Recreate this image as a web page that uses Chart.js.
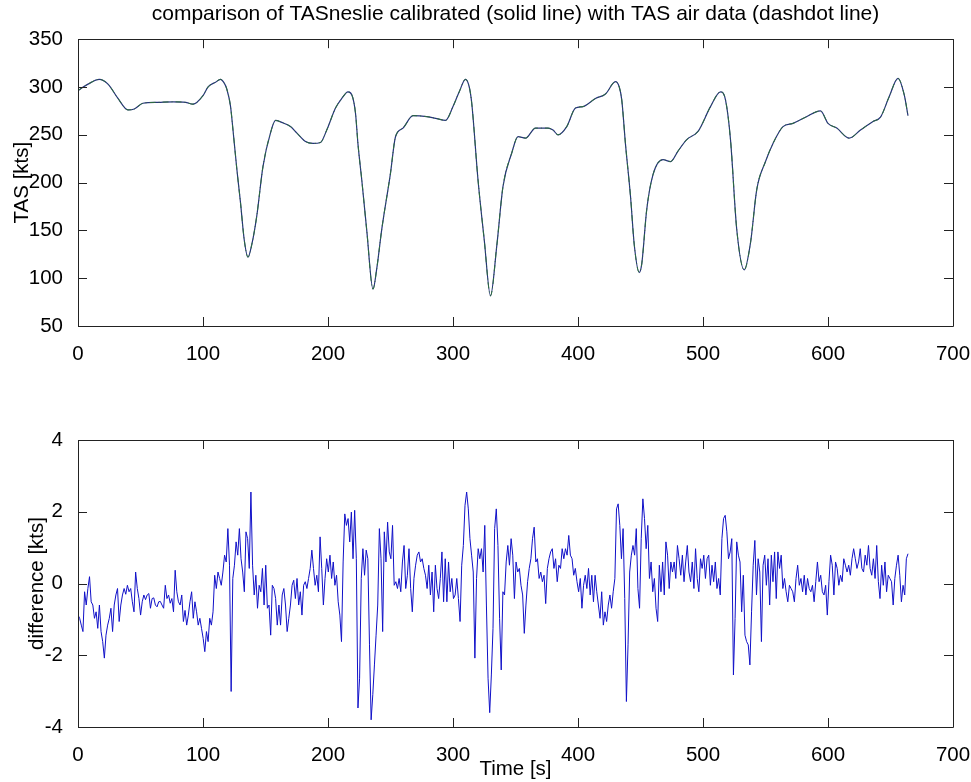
<!DOCTYPE html>
<html>
<head>
<meta charset="utf-8">
<script src="https://cdn.jsdelivr.net/npm/chart.js@4"></script>
<style>
  html, body { margin: 0; padding: 0; background: #fff; overflow: hidden; }
  #wrap { position: relative; width: 971px; height: 782px; }
  #top { position: absolute; left: 0; top: 0; }
  #bottom { position: absolute; left: 0; top: 380px; }
</style>
</head>
<body>
<div id="wrap">
  <canvas id="top" width="971" height="380"></canvas>
  <canvas id="bottom" width="971" height="402"></canvas>
</div>
<script>
// upper panel: TAS trace (both sources lie on top of each other)
const tasTime = [0, 3, 8, 17, 24, 32, 40, 45, 52, 64, 76, 86, 92, 100, 104, 110, 114, 117, 119, 122,
  124, 127, 130, 133, 136, 139, 143, 148, 154, 158, 163, 170, 175, 182, 188, 194, 199, 206, 211, 216,
  219, 222, 224, 227, 231, 236, 239, 243, 250, 254, 260, 268, 279, 287, 294, 300, 305, 310, 313, 315,
  320, 325, 330, 335, 340, 347, 352, 358, 366, 376, 380, 384, 391, 398, 404, 414, 422, 430, 433, 435,
  438, 442, 445, 449, 451, 455, 460, 468, 474, 480, 487, 496, 506, 514, 518, 522, 527, 533, 538, 543,
  550, 556, 564, 572, 582, 594, 600, 607, 617, 626, 636, 642, 649, 656, 661, 664];
const tasValue = [296, 299, 303, 308, 303, 288, 276, 277, 283, 284, 284.5, 284, 282, 291, 300, 305, 308, 304, 298, 280,
  255, 215, 179, 140, 122, 135, 165, 217, 252, 265, 263, 258.6, 252, 243, 241, 242, 255, 278, 288, 295,
  292, 272.6, 240, 203, 150, 88.5, 110, 151, 210, 248, 257, 270, 269, 267, 265, 279.5, 295, 308, 300, 283,
  203, 140, 81.6, 133.6, 196, 231, 248, 246.5, 257, 257, 255, 250, 258.6, 278, 279.5, 288, 292.7, 305.6, 300, 286.5,
  240, 185.7, 135, 106, 115, 172, 208.3, 224, 222, 233, 245, 253.5, 279.5, 295, 286.5, 245, 151, 108.7, 137, 192.7,
  222, 241, 258.6, 262, 268.4, 275, 262, 257, 246.5, 255, 264, 268.4, 290, 309, 291.7, 270];

// lower panel: difference, sampled evenly from t = 0 to t = 664 s
const diffSeg1 = [-0.88, -0.97, -1.16, -1.34, -0.23, -0.60, -0.14, 0.19, -0.51, -0.60,
  -0.97, -0.79, -1.25, -0.60, -1.34, -1.62, -2.08, -1.44, -1.16, -0.97,
  -0.69, -1.34, -0.60, -0.32, -0.14, -1.06, -0.60, -0.32, -0.14, -0.30,
  -0.05, -0.23, -0.14, -0.51, -0.79, 0.32, -0.14, -0.42, -0.88, -0.51,
  -0.32, -0.45, -0.32, -0.28, -0.69, -0.42, -0.40, -0.60, -0.65, -0.51,
  -0.50, -0.60, -0.69, -0.05, -0.42, -0.32, -0.55, -0.42, -0.79, 0.37,
  -0.23, -0.51, -0.60, -0.32, -1.06, -0.75, -1.16, -0.88, -0.51, -0.23,
  -0.97, -0.51, -0.79, -1.16, -0.97, -1.25, -1.53, -1.90, -1.34, -1.62,
  -0.97, -1.16, -0.79, 0.23, -0.14, 0.32, 0.14, -0.05, 0.32, 0.79,
  0.60, 1.53, 0.51, -3.01, 0.14, 0.51, 1.16, 0.79, 1.53, 0.69,
  0.32, -0.23, 1.44, 1.25, 0.42, 2.55, 0.51, -0.32, 0.23, -0.69,
  -0.05, -0.23, 0.42, -0.60, 0.51, -0.69, -0.60, -1.44, -0.05, -0.14,
  -0.42, -1.16, -0.60];
const diffSeg2 = [-1.16, -0.32, -0.14, -0.60, -1.34, -0.97, -0.60, -0.05, 0.09, -0.42,
  0.14, -0.60, -0.23, -0.88, -0.05, 0.05, -0.14, 0.14, 0.42, 0.93,
  0.42, -0.05, 0.23, -0.23, 1.30, 0.42, -0.60, 0.14, 0.69, 0.32,
  0.79, 0.14, 0.60, -0.05, 0.23, -0.51, -0.88, -1.62, 0.60, 1.94,
  1.62, 1.81, 1.16, 1.99, 0.69, 2.04, 0.69, -3.47, -2.64, 0.14,
  0.97, 0.23, 0.93, 0.69, -1.71, -3.80, -3.10, -2.27, -1.44, -0.60,
  1.53, 0.69, -1.34, 1.44, 0.60, 1.71, 0.88, 0.69, 1.62, -0.05,
  0.05, -0.14, 0.14, -0.23, 0.60, 1.06, -0.14, 0.23, 0.97, -0.14,
  -0.79, 0.14, 0.51, 0.79, 0.88, 0.60, 0.69, 0.42, 0.23, -0.14,
  0.51, -0.32, 0.32, -0.79, 0.51, -0.14, -0.42, 0.14, 0.88, -0.51,
  0.69, -0.51, 0.60, -0.23, 0.14, -0.42, -0.32, 0.14, -0.42, -1.06,
  0.51, 1.06, 2.18, 2.55, 2.08, 1.25, 0.79, 0.32, -2.08, 0.14,
  0.97, 0.69, 0.97, 0.32, 1.62, -0.60, -2.64, -3.60];
const diffSeg3 = [-2.55, -1.25, 1.53, 2.08, 1.06, -0.97, -2.41, -0.23, -0.32, 0.60,
  1.06, 0.51, 1.25, 0.79, -0.42, 0.60, 0.32, 0.42, -0.05, -0.32,
  -1.39, -0.60, 0.05, 0.42, 0.69, 1.25, 1.57, 0.60, 0.69, 0.14,
  0.32, 0.05, 0.23, -0.56, 0.42, 0.69, 0.88, 0.97, 0.42, 0.69,
  0.05, 0.51, 0.42, 0.97, 0.69, 0.97, 0.79, 1.34, 0.79, 0.69,
  0.23, 0.42, 0.05, -0.23, 0.14, -0.69, -0.05, 0.23, -0.14, 0.42,
  -0.32, 0.23, -0.51, 0.23, -0.23, -0.60, -0.97, -0.23, -1.16, -0.79,
  -1.06, -0.60, -0.32, -0.69, -0.23, 0.14, 2.08, 2.22, 1.62, 0.69,
  1.53, -0.42, -3.29, -1.71, 0.32, 0.79, 1.06, 0.79, 1.53, -0.14,
  -0.69, 1.25, 2.36, 1.81, 0.97, 1.62, 0.14, 0.60, -0.23, 0.14,
  -0.69, -1.06, 0.51, -0.23, 0.60, -0.32, 1.16, 0.79, -0.14, 0.60,
  0.32, 0.60, 0.14, 1.06, 0.69, 0.23, 0.79, 0.05, 0.60, 1.06,
  0.32, 0.05, 0.60, -0.14, 0.97, 0.14, -0.23, 0.69];
const diffSeg4 = [0.42, 0.79, 0.14, 0.69, 0.79, -0.05, 0.51, 0.05, 0.60, -0.14,
  0.14, -0.32, 1.25, 1.81, 1.90, 1.44, 0.69, 0.88, 1.25, -2.55,
  -0.97, 1.16, 0.79, 0.60, -0.79, 0.23, -1.44, -1.62, -1.71, -2.27,
  -0.79, 0.51, 1.20, -0.32, 0.69, 0.32, -1.62, 0.51, 0.79, -0.05,
  0.69, -0.60, 0.79, 0.05, 0.88, -0.42, 0.88, 0.42, 0.79, -0.14,
  0.14, -0.23, -0.51, -0.05, -0.14, -0.23, -0.51, 0.14, 0.51, -0.05,
  0.14, -0.23, 0.23, -0.32, 0.14, -0.14, -0.23, -0.05, -0.51, 0.05,
  0.60, 0.05, 0.23, -0.23, -0.32, -0.05, -0.88, 0.05, 0.79, 0.51,
  -0.32, 0.60, 0.42, -0.05, 0.23, 0.05, 0.69, 0.51, 0.32, 0.51,
  0.23, 0.69, 0.97, 0.69, 0.42, 0.60, 0.97, 0.42, 0.32, 0.79,
  0.51, 1.06, 0.42, 0.23, 0.69, 0.14, 1.06, 0.05, -0.42, 0.51,
  -0.05, 0.60, -0.23, 0.23, 0.14, 0.05, -0.60, 0.14, 0.51, 0.79,
  0.23, -0.51, -0.05, -0.32, 0.69, 0.83];
const diffEnd = 664;

const titleText = "comparison of TASneslie calibrated (solid line) with TAS air data (dashdot line)";

const diffValues = [...diffSeg1, ...diffSeg2, ...diffSeg3, ...diffSeg4];
const diffStep = diffEnd / (diffValues.length - 1);
const tasPoints = tasTime.map((t, i) => ({ x: t, y: tasValue[i] }));
const diffPoints = diffValues.map((v, i) => ({ x: i * diffStep, y: v }));

Chart.defaults.font.family = "'Liberation Sans', Arial, sans-serif";
Chart.defaults.font.size = 20.5;
Chart.defaults.color = "#000";

// matlab style box with inward ticks on all four sides
const boxTicks = {
  id: "boxTicks",
  afterDatasetsDraw(chart) {
    const { ctx, chartArea: a, scales: { x, y } } = chart;
    const len = 9;
    ctx.save();
    ctx.strokeStyle = "#222";
    ctx.lineWidth = 1;
    ctx.beginPath();
    ctx.rect(Math.round(a.left) + 0.5, Math.round(a.top) + 0.5, Math.round(a.width), Math.round(a.height));
    x.ticks.forEach(t => {
      const px = Math.round(x.getPixelForValue(t.value)) + 0.5;
      ctx.moveTo(px, a.top); ctx.lineTo(px, a.top + len);
      ctx.moveTo(px, a.bottom); ctx.lineTo(px, a.bottom - len);
    });
    y.ticks.forEach(t => {
      const py = Math.round(y.getPixelForValue(t.value)) + 0.5;
      ctx.moveTo(a.left, py); ctx.lineTo(a.left + len, py);
      ctx.moveTo(a.right, py); ctx.lineTo(a.right - len, py);
    });
    ctx.stroke();
    ctx.restore();
  }
};

const xAxis = (height, titleOpts) => ({
  type: "linear",
  min: 0, max: 700,
  grid: { display: false }, border: { display: false },
  ticks: { stepSize: 100, padding: 8, maxRotation: 0 },
  title: titleOpts,
  afterFit(s) { s.height = height; s.paddingLeft = 0; s.paddingRight = 0; }
});
const yAxis = (min, max, step, label, pad) => ({
  min, max,
  grid: { display: false }, border: { display: false },
  ticks: { stepSize: step, padding: 7 },
  title: { display: true, text: label, padding: { top: pad, bottom: 0 } },
  afterFit(s) { s.width = 78; s.paddingTop = 0; s.paddingBottom = 0; }
});

new Chart(document.getElementById("top"), {
  type: "line",
  data: {
    datasets: [
      { label: "TAS air data", data: tasPoints, borderColor: "#2e6e3e", borderWidth: 1,
        borderDash: [6, 3, 1, 3], pointRadius: 0, cubicInterpolationMode: "monotone" },
      { label: "TASneslie calibrated", data: tasPoints, borderColor: "#26327a", borderWidth: 1.2,
        pointRadius: 0, cubicInterpolationMode: "monotone" }
    ]
  },
  options: {
    responsive: false, animation: false,
    layout: { padding: { left: 0, right: 18, top: 0, bottom: 0 } },
    plugins: {
      legend: { display: false }, tooltip: { enabled: false },
      title: { display: true, fullSize: false, text: titleText, font: { size: 21, weight: "normal" },
        padding: { top: 2, bottom: 12 } }
    },
    scales: {
      x: xAxis(54, { display: false }),
      y: yAxis(50, 350, 50, "TAS [kts]", 10)
    }
  },
  plugins: [boxTicks]
});

new Chart(document.getElementById("bottom"), {
  type: "line",
  data: {
    datasets: [
      { label: "difference", data: diffPoints, borderColor: "#1010c8", borderWidth: 1,
        pointRadius: 0, tension: 0 }
    ]
  },
  options: {
    responsive: false, animation: false,
    layout: { padding: { left: 0, right: 18, top: 60, bottom: 0 } },
    plugins: { legend: { display: false }, tooltip: { enabled: false } },
    scales: {
      x: xAxis(55, { display: true, text: "Time [s]", padding: { top: 0, bottom: 0 } }),
      y: yAxis(-4, 4, 2, "difference [kts]", 25)
    }
  },
  plugins: [boxTicks]
});
</script>
</body>
</html>
